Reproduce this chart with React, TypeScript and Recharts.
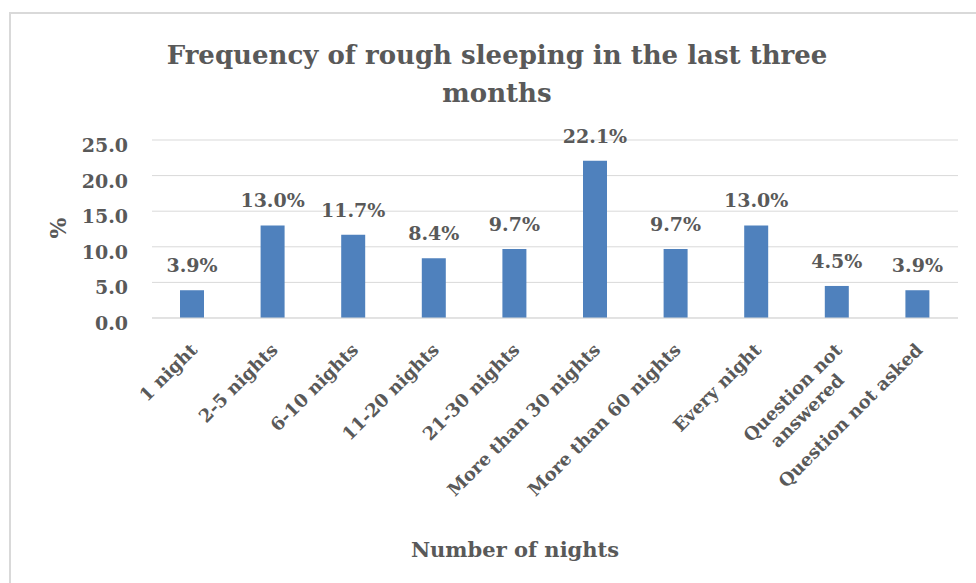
import { BarChart, Bar, XAxis, YAxis, CartesianGrid, LabelList, Customized } from 'recharts';

const categories = [
  '1 night',
  '2-5 nights',
  '6-10 nights',
  '11-20 nights',
  '21-30 nights',
  'More than 30 nights',
  'More than 60 nights',
  'Every night',
  'Question not answered',
  'Question not asked',
];

const percentages = [3.9, 13.0, 11.7, 8.4, 9.7, 22.1, 9.7, 13.0, 4.5, 3.9];

const yTicks = [0, 5, 10, 15, 20, 25];

const data = categories.map((name, i) => ({ name, value: percentages[i] }));

const FONT = '"DejaVu Serif", serif';
const TEXT = '#595959';
const GRID = '#d9d9d9';
const BAR = '#4f81bd';

// 斜めのカテゴリラベル（長いものは2行）
const XTick = ({ x, y, payload }: any) => {
  const label: string = payload.value;
  const lines = label === 'Question not answered' ? ['Question not', 'answered'] : [label];
  return (
    <text
      transform={`translate(${x + 6},${y + 33}) rotate(-45)`}
      textAnchor="end"
      fill={TEXT}
      fontFamily={FONT}
      fontWeight="bold"
      fontSize={18}
    >
      {lines.map((line, i) => (
        <tspan key={i} x={i === 0 ? 0 : -20} dy={i === 0 ? 0 : 23}>
          {line}
        </tspan>
      ))}
    </text>
  );
};

const YTick = ({ x, y, payload }: any) => (
  <text
    x={x}
    y={y + 12}
    textAnchor="end"
    fill={TEXT}
    fontFamily={FONT}
    fontWeight="bold"
    fontSize={19}
  >
    {Number(payload.value).toFixed(1)}
  </text>
);

// タイトルと軸タイトル
const Titles = () => (
  <g fill={TEXT} fontFamily={FONT} fontWeight="bold">
    <text x={497} y={64} textAnchor="middle" fontSize={26}>
      Frequency of rough sleeping in the last three
    </text>
    <text x={497} y={102} textAnchor="middle" fontSize={26}>
      months
    </text>
    <text transform="translate(66,228) rotate(-90)" textAnchor="middle" fontSize={22}>
      %
    </text>
    <text x={515} y={557} textAnchor="middle" fontSize={21}>
      Number of nights
    </text>
  </g>
);

export default function App() {
  return (
    <div
      style={{
        position: 'absolute',
        left: 0,
        top: 0,
        width: 976,
        height: 583,
        overflow: 'hidden',
        background: '#fff',
      }}
    >
      <div
        style={{
          position: 'absolute',
          left: 9,
          top: 12,
          width: 1100,
          height: 800,
          border: '2px solid #d9d9d9',
        }}
      />
      <div style={{ position: 'absolute', left: 0, top: 0 }}>
        <BarChart
          width={976}
          height={583}
          data={data}
          margin={{ top: 140, right: 18, left: 52, bottom: 65 }}
        >
          <CartesianGrid vertical={false} stroke={GRID} strokeWidth={1} />
          <XAxis
            dataKey="name"
            interval={0}
            height={200}
            tickLine={false}
            tickSize={0}
            tickMargin={0}
            axisLine={{ stroke: GRID }}
            tick={<XTick />}
          />
          <YAxis
            width={100}
            domain={[0, 25]}
            ticks={yTicks}
            axisLine={false}
            tickLine={false}
            tickSize={0}
            tickMargin={24}
            tick={<YTick />}
          />
          <Bar dataKey="value" fill={BAR} barSize={24} isAnimationActive={false}>
            <LabelList
              dataKey="value"
              position="top"
              offset={18}
              formatter={(v: any) => `${Number(v).toFixed(1)}%`}
              fill={TEXT}
              fontFamily={FONT}
              fontWeight="bold"
              fontSize={19}
            />
          </Bar>
          <Customized component={Titles} />
        </BarChart>
      </div>
    </div>
  );
}
